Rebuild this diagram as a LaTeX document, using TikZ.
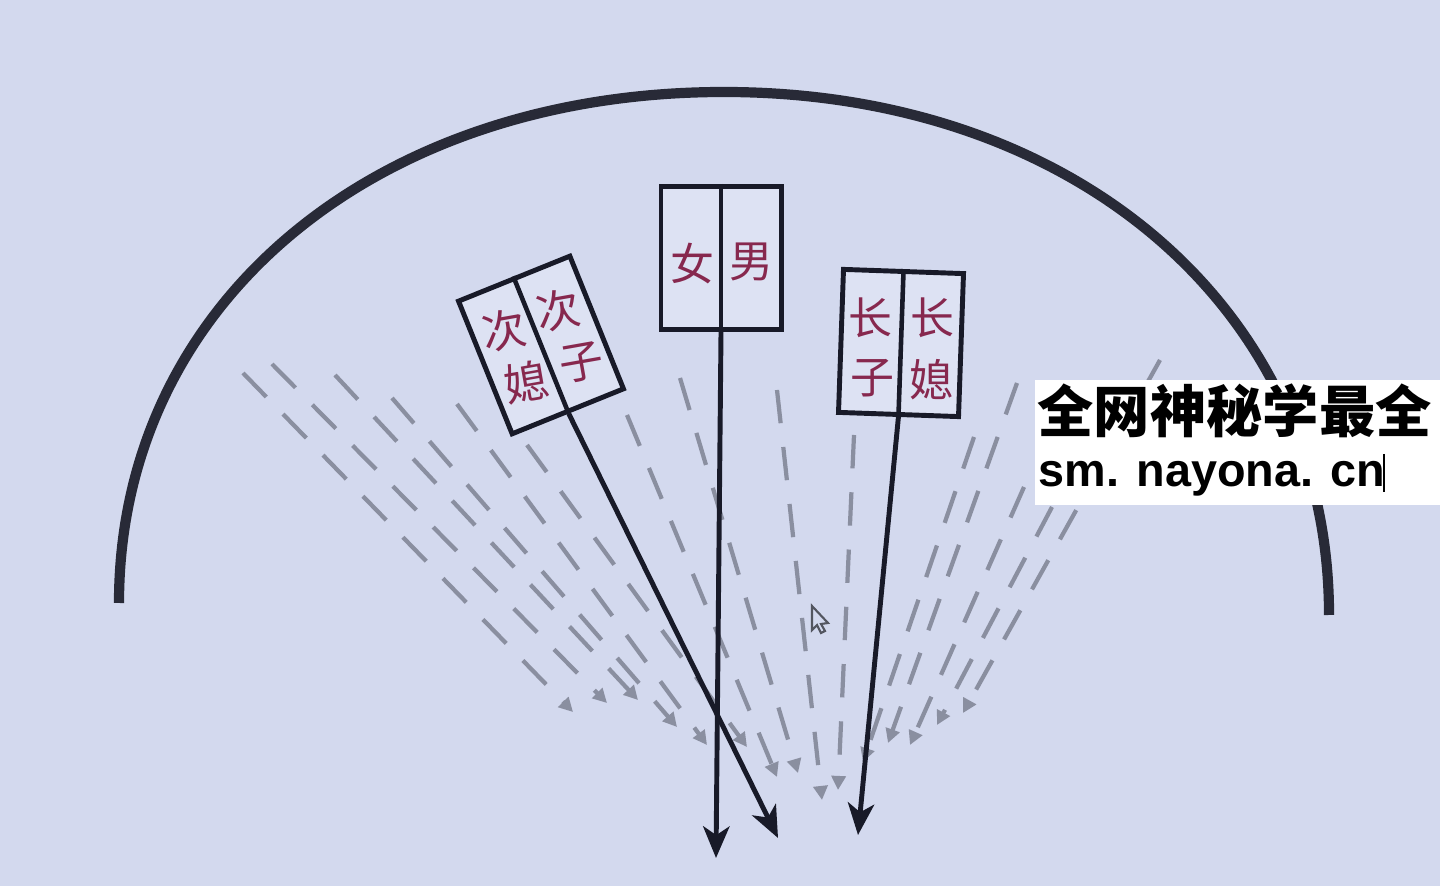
\documentclass[tikz,border=0pt]{standalone}
\usepackage{fontspec}
\usepackage{tikz}
\usetikzlibrary{arrows.meta, positioning}
\newfontfamily\hanfont{Noto Sans CJK SC}
\newfontfamily\urlfont{Liberation Sans}
\definecolor{bgcol}{RGB}{211,217,238}
\definecolor{boxcol}{RGB}{221,226,243}
\definecolor{inkcol}{RGB}{24,26,40}
\definecolor{rimcol}{RGB}{40,42,55}
\definecolor{raycol}{RGB}{138,143,160}
\definecolor{hancol}{RGB}{135,40,78}
\tikzstyle{panel} = [draw=inkcol, line width=1.4pt, fill=boxcol, minimum width=1.2cm, minimum height=1.43cm, inner sep=0pt]
\tikzstyle{divider} = [draw=inkcol, line width=1.3pt]
\tikzstyle{han} = [text=hancol, font=\hanfont\fontsize{12.5}{12.5}\selectfont, inner sep=0pt]
\tikzstyle{stem} = [draw=inkcol, line width=1.4pt, -{Stealth[length=9pt,width=7.5pt,inset=2.5pt]}]
\tikzstyle{ray} = [draw=raycol, line width=1.2pt, dash pattern=on 9.5pt off 6.8pt, -{Triangle[length=4pt,width=4pt]}]
\tikzstyle{rim} = [draw=rimcol, line width=2.9pt]

\begin{document}
\begin{tikzpicture}[x=0.01cm, y=-0.01cm]

\fill[bgcol] (0,0) rectangle (1440,886);
\useasboundingbox (0,0) rectangle (1440,886);

\draw[rim] (119,603) .. controls (119,305) and (373,92) .. (724,92)
  .. controls (1075,92) and (1329,310) .. (1329,615);

\foreach \xa/\ya/\xb/\yb in {243/373/573/712, 272/364/607/703, 335/375/638/700,
  392/398/677/727, 457/404/707/745, 527/445/747/747, 627/415/777/777,
  680/378/798/773, 777/390/822/800, 854/435/838/790, 974/437/863/762,
  1017/383/888/743, 1024/487/910/745, 1052/507/937/725, 1160/360/963/713}{
  \draw[ray] (\xa,\ya) -- (\xb,\yb);
}

\node[panel, rotate=22] (ciBox) at (541,345) {};
\node[panel] (nvBox) at (721,258) {};
\node[panel, rotate=-2] (zhBox) at (901,343) {};

\foreach \b in {ciBox, nvBox, zhBox}{
  \draw[divider] (\b.north) -- (\b.south);
}

\coordinate (ciTip) at (778,838);
\coordinate (nvTip) at (716,858);
\coordinate (zhTip) at (858,835);
\draw[stem] (ciBox.south) -- (ciTip);
\draw[stem] (nvBox.south) -- (nvTip);
\draw[stem] (zhBox.south) -- (zhTip);

\node[han, rotate=10] at (504,330) {次};
\node[han, rotate=10] at (526,382) {媳};
\node[han, rotate=10] at (558,310) {次};
\node[han, rotate=10] at (581,363) {子};

\node[han] at (692,264) {女};
\node[han] at (751,262) {男};

\node[han] at (870,318) {长};
\node[han] at (872,378) {子};
\node[han] at (932,318) {长};
\node[han] at (931,380) {媳};

\draw[raycol!60!black, line width=0.6pt, fill=bgcol]
  (812,606) -- (812,630) -- (817,625) -- (821,633) -- (825,631) -- (821,624) -- (828,623) -- cycle;

\fill[white] (1035,380) rectangle (1440,505);
\node[anchor=base west, inner sep=0pt, font=\hanfont\bfseries\fontsize{16}{16}\selectfont] (wmTop) at (1037,433) {全网神秘学最全};
\node[anchor=base west, inner sep=0pt, font=\urlfont\bfseries\fontsize{13.3}{14}\selectfont] (wmUrl) at (1038,487) {sm. nayona. cn};
\draw[line width=0.6pt] (1384,454) -- (1384,492);

\end{tikzpicture}
\end{document}
